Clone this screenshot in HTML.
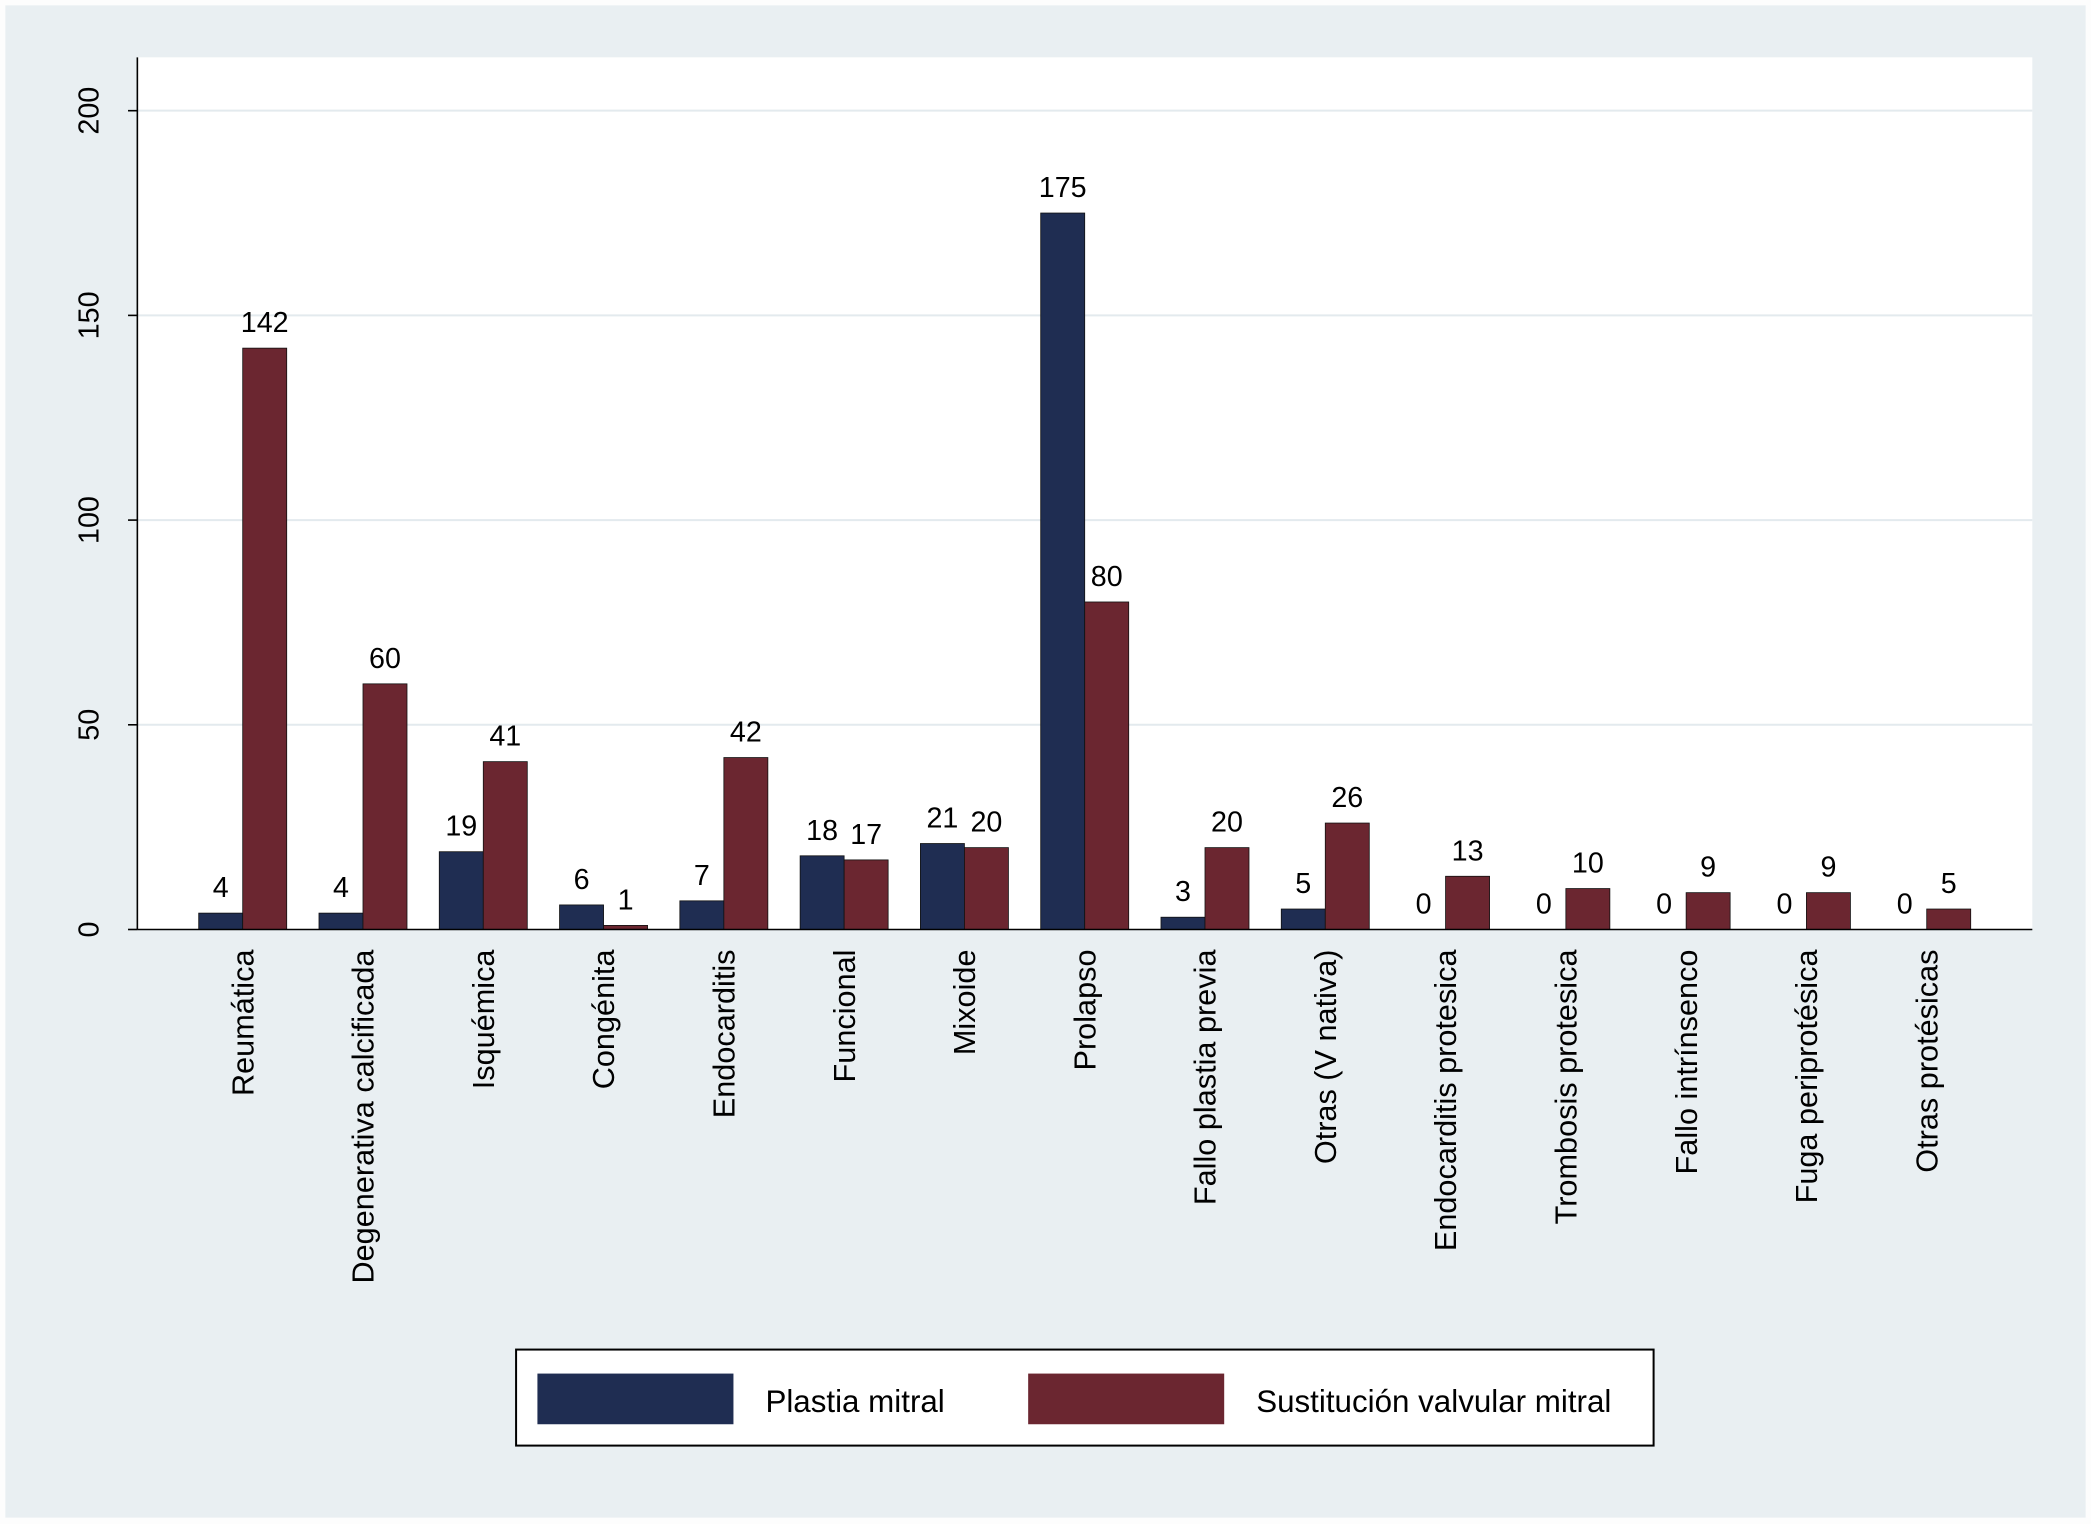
<!DOCTYPE html>
<html><head><meta charset="utf-8"><style>
html,body{margin:0;padding:0;background:#fff}
svg{display:block;font-family:"Liberation Sans",sans-serif}
</style></head><body>
<svg id="chart" width="2091" height="1524" viewBox="0 0 1568 1142.8" preserveAspectRatio="none">
<rect x="0" y="0" width="1568" height="1142.8" fill="#fdfdfd"/>
<rect x="4" y="4" width="1560" height="1134" fill="#e9eff2"/>
<rect x="103" y="43" width="1421" height="654" fill="#ffffff"/>
<g id="grid"></g><g id="bars"></g><g id="labels"></g><g id="axes"></g>
<g>
<rect x="387" y="1012" width="853" height="72" fill="#fff" stroke="#000" stroke-width="1.5"/>
<rect x="403" y="1030" width="147" height="38" fill="#1f2d52"/>
<text x="574" y="1059" font-size="23.5">Plastia mitral</text>
<rect x="771" y="1030" width="147" height="38" fill="#6b2630"/>
<text x="942" y="1059" font-size="23.5">Sustitución valvular mitral</text>
</g>
</svg>
<script>
const categories=["Reumática","Degenerativa calcificada","Isquémica","Congénita","Endocarditis","Funcional","Mixoide","Prolapso","Fallo plastia previa","Otras (V nativa)","Endocarditis protesica","Trombosis protesica","Fallo intrínsenco","Fuga periprotésica","Otras protésicas"];
const plastia=[4,4,19,6,7,18,21,175,3,5,0,0,0,0,0];
const sustitucion=[142,60,41,1,42,17,20,80,20,26,13,10,9,9,5];
const yTicks=[0,50,100,150,200];
const NS="http://www.w3.org/2000/svg";
const y=v=>697-v*(697-83)/200;
const xc=i=>182+i*90.2;
const BW=33;
function mk(tag,attrs,parent){const e=document.createElementNS(NS,tag);for(const k in attrs)e.setAttribute(k,attrs[k]);document.getElementById(parent).appendChild(e);return e;}
yTicks.forEach(t=>{
 if(t>0){const g=mk('line',{x1:103,x2:1524,y1:y(t),y2:y(t),stroke:'#e3eaee','stroke-width':1.5},'grid');
 
 }
 const tk=mk('line',{x1:96,x2:103,y1:y(t),y2:y(t),stroke:'#000','stroke-width':1.2},'axes');
 
 
 const tl=mk('text',{x:0,y:0,'font-size':21.5,'text-anchor':'middle',transform:`translate(74,${y(t)}) rotate(-90)`},'axes');
 tl.textContent=t;
 
 
});
const ax=mk('line',{x1:103,x2:103,y1:43,y2:697,stroke:'#000','stroke-width':1.2},'axes');


const bx=mk('line',{x1:103,x2:1524,y1:697,y2:697,stroke:'#000','stroke-width':1.2},'axes');


categories.forEach((c,i)=>{
 const cx=xc(i);
 [[plastia[i],cx-BW,'#1f2d52','plastia'],[sustitucion[i],cx,'#6b2630','sustitucion']].forEach(([v,x,col,nm])=>{
  const r=mk('rect',{x:x,y:y(v),width:BW,height:697-y(v),fill:col,stroke:'#111','stroke-width':0.6},'bars');
  
  
  const t=mk('text',{x:x+BW/2,y:y(v)-12,'font-size':21.5,'text-anchor':'middle'},'labels');
  t.textContent=v;
  
  
 });
 const cl=mk('text',{x:0,y:0,'font-size':23,'text-anchor':'end',transform:`translate(${cx+8},712) rotate(-90)`},'labels');
 cl.textContent=c;
 
 
});
</script>
</body></html>
